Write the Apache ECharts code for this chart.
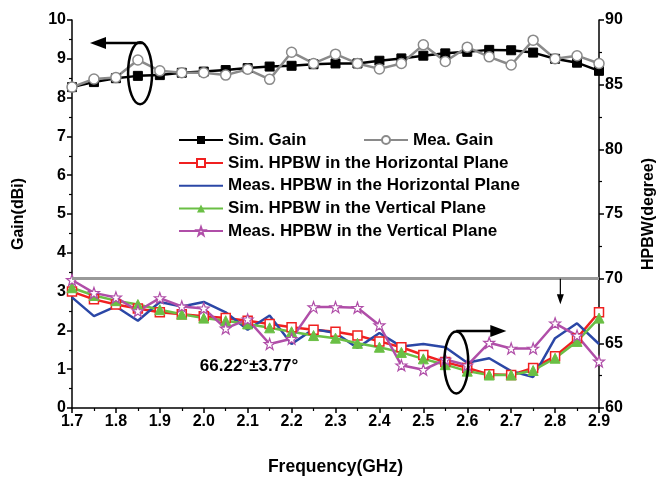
<!DOCTYPE html>
<html>
<head>
<meta charset="utf-8">
<script src="https://cdn.jsdelivr.net/npm/echarts@6/dist/echarts.min.js"></script>
<style>
html, body { margin: 0; padding: 0; background: #fff; }
#main { width: 656px; height: 478px; }
</style>
</head>
<body>
<div id="main"></div>
<script>
var freq = [1.70, 1.75, 1.80, 1.85, 1.90, 1.95, 2.00, 2.05, 2.10, 2.15, 2.20, 2.25, 2.30,
            2.35, 2.40, 2.45, 2.50, 2.55, 2.60, 2.65, 2.70, 2.75, 2.80, 2.85, 2.90];

// gain (dBi), left axis
var simGain = [8.27, 8.40, 8.50, 8.56, 8.58, 8.64, 8.67, 8.71, 8.76, 8.80, 8.82, 8.86, 8.88,
               8.88, 8.95, 9.01, 9.08, 9.14, 9.18, 9.23, 9.22, 9.16, 9.00, 8.90, 8.69];
var meaGain = [8.27, 8.48, 8.52, 8.97, 8.69, 8.64, 8.64, 8.58, 8.73, 8.47, 9.17, 8.88, 9.12,
               8.88, 8.74, 8.88, 9.36, 8.93, 9.30, 9.05, 8.84, 9.48, 9.00, 9.08, 8.88];

// HPBW (degree), right axis
var simH  = [69.0, 68.4, 68.0, 67.7, 67.4, 67.25, 67.1, 66.95, 66.75, 66.5, 66.25, 66.05, 65.9,
             65.6, 65.15, 64.7, 64.1, 63.55, 63.1, 62.6, 62.55, 63.1, 64.0, 65.4, 67.4];
var measH = [68.55, 67.1, 67.85, 66.75, 68.2, 67.85, 68.2, 67.4, 66.05, 67.15, 64.95, 66.1, 65.8,
             64.65, 65.8, 64.75, 64.95, 64.7, 63.5, 63.85, 62.85, 62.4, 65.4, 66.55, 64.95];
var simV  = [69.3, 68.7, 68.3, 68.0, 67.6, 67.25, 66.95, 66.75, 66.5, 66.2, 65.9, 65.6, 65.4,
             65.0, 64.7, 64.3, 63.8, 63.35, 62.85, 62.55, 62.55, 62.9, 63.85, 65.15, 66.95];
var measV = [69.9, 68.9, 68.55, 67.5, 68.5, 67.85, 67.7, 66.15, 66.85, 64.95, 65.35, 67.8, 67.8,
             67.75, 66.4, 63.3, 62.95, 63.75, 63.3, 65.05, 64.6, 64.6, 66.55, 65.6, 63.6];

var noteText = '66.22°±3.77°';

function pairs(ys) {
    var out = [];
    for (var i = 0; i < freq.length; i++) {
        out.push([freq[i], ys[i]]);
    }
    return out;
}

var FONT = '"Liberation Sans", Arial, sans-serif';
var chart = echarts.init(document.getElementById('main'), null, { renderer: 'canvas' });

var axisBase = {
    axisLine: { show: true, lineStyle: { color: '#000', width: 1.5 } },
    axisTick: { show: true, inside: false, length: 5, lineStyle: { color: '#000', width: 1.5 } },
    minorTick: { show: true, splitNumber: 2, length: 3, lineStyle: { color: '#000', width: 1.2 } },
    splitLine: { show: false },
    axisLabel: { color: '#000', fontFamily: FONT, fontWeight: 'bold', fontSize: 16, margin: 6 },
    nameTextStyle: { color: '#000', fontFamily: FONT, fontWeight: 'bold', fontSize: 16 }
};
var legendText = { color: '#000', fontFamily: FONT, fontWeight: 'bold', fontSize: 17, lineHeight: 20 };

var option = {
    animation: false,
    backgroundColor: '#fff',
    grid: { left: 72, right: 57, top: 20, bottom: 70, outerBoundsMode: 'none', containLabel: false },
    legend: [
        {
            data: ['Sim. Gain'], left: 178, top: 130, padding: 0,
            itemWidth: 44, itemHeight: 10, textStyle: legendText
        },
        {
            data: ['Mea. Gain'], left: 363, top: 130, padding: 0,
            itemWidth: 44, itemHeight: 10, textStyle: legendText
        },
        {
            data: [
                'Sim. HPBW in the Horizontal Plane',
                { name: 'Meas. HPBW in the Horizontal Plane', itemStyle: { opacity: 0 } },
                'Sim. HPBW in the Vertical Plane',
                'Meas. HPBW in the Vertical Plane'
            ],
            orient: 'vertical', left: 178, top: 153, padding: 0,
            itemWidth: 44, itemHeight: 10, itemGap: 2.7, textStyle: legendText
        }
    ],
    xAxis: Object.assign({}, axisBase, {
        type: 'value', min: 1.7, max: 2.9, interval: 0.1,
        name: 'Frequency(GHz)', nameLocation: 'middle', nameGap: 50,
        nameTextStyle: Object.assign({}, axisBase.nameTextStyle, { fontSize: 17.5 }),
        axisLabel: Object.assign({}, axisBase.axisLabel, {
            formatter: function (v) { return v.toFixed(1); }
        })
    }),
    yAxis: [
        Object.assign({}, axisBase, {
            type: 'value', min: 0, max: 10, interval: 1, position: 'left',
            name: 'Gain(dBi)', nameLocation: 'middle', nameGap: 45, nameRotate: 90
        }),
        Object.assign({}, axisBase, {
            type: 'value', min: 60, max: 90, interval: 5, position: 'right',
            name: 'HPBW(degree)', nameLocation: 'middle', nameGap: 42, nameRotate: 90
        })
    ],
    series: [
        {
            name: 'Sim. Gain', type: 'line', yAxisIndex: 0, data: pairs(simGain),
            symbol: 'rect', symbolSize: 9,
            lineStyle: { color: '#000', width: 2.5 },
            itemStyle: { color: '#000', borderColor: '#000' }
        },
        {
            name: 'Mea. Gain', type: 'line', yAxisIndex: 0, data: pairs(meaGain),
            symbol: 'circle', symbolSize: 10,
            lineStyle: { color: '#8a8a8a', width: 2.5 },
            itemStyle: { color: '#fff', borderColor: '#8a8a8a', borderWidth: 1.5 }
        },
        {
            name: 'Sim. HPBW in the Horizontal Plane', type: 'line', yAxisIndex: 1, data: pairs(simH),
            symbol: 'rect', symbolSize: 9,
            lineStyle: { color: '#f02020', width: 2.5 },
            itemStyle: { color: '#fff', borderColor: '#f02020', borderWidth: 1.5 },
            markLine: {
                silent: true, symbol: 'none', label: { show: false },
                lineStyle: { color: '#999', width: 3, type: 'solid' },
                data: [{ yAxis: 70 }]
            }
        },
        {
            name: 'Meas. HPBW in the Horizontal Plane', type: 'line', yAxisIndex: 1, data: pairs(measH),
            symbol: 'none', showSymbol: false,
            lineStyle: { color: '#2b47a6', width: 2.5 },
            itemStyle: { color: '#2b47a6' }
        },
        {
            name: 'Sim. HPBW in the Vertical Plane', type: 'line', yAxisIndex: 1, data: pairs(simV),
            symbol: 'triangle', symbolSize: 10,
            lineStyle: { color: '#6abf45', width: 2.5 },
            itemStyle: { color: '#6abf45', borderColor: '#6abf45' }
        },
        {
            name: 'Meas. HPBW in the Vertical Plane', type: 'line', yAxisIndex: 1, data: pairs(measV),
            symbol: 'path://M0,-10 L2.35,-3.24 L9.51,-3.09 L3.8,1.24 L5.88,8.09 L0,4 L-5.88,8.09 L-3.8,1.24 L-9.51,-3.09 L-2.35,-3.24 Z',
            symbolSize: 11,
            lineStyle: { color: '#b04ea8', width: 2.5 },
            itemStyle: { color: '#fff', borderColor: '#b04ea8', borderWidth: 1.2 }
        }
    ]
};
chart.setOption(option);

// annotations placed through the axes
function px(x, y, yi) {
    return chart.convertToPixel({ xAxisIndex: 0, yAxisIndex: yi }, [x, y]);
}
function arrowHead(tip, dir, len, half) {
    var a, b;
    if (dir === 'left') { a = [tip[0] + len, tip[1] - half]; b = [tip[0] + len, tip[1] + half]; }
    else if (dir === 'right') { a = [tip[0] - len, tip[1] - half]; b = [tip[0] - len, tip[1] + half]; }
    else { a = [tip[0] - half, tip[1] - len]; b = [tip[0] + half, tip[1] - len]; }
    return { type: 'polygon', shape: { points: [tip, a, b] }, style: { fill: '#000' }, z: 100 };
}

var e1 = px(1.855, 8.63, 0);
var a1s = px(1.86, 9.41, 0), a1t = px(1.741, 9.41, 0);
var e2 = px(2.575, 63.52, 1);
var a2s = px(2.575, 65.96, 1), a2t = px(2.689, 65.96, 1);
var a3s = px(2.812, 70, 1), a3t = px(2.812, 68.02, 1);
var tp = px(1.991, 63.24, 1);

chart.setOption({
    graphic: [
        { type: 'ellipse', shape: { cx: e1[0], cy: e1[1], rx: 12, ry: 31 },
          style: { fill: 'none', stroke: '#000', lineWidth: 2.5 }, z: 100 },
        { type: 'line', shape: { x1: a1s[0], y1: a1s[1], x2: a1t[0] + 12, y2: a1t[1] },
          style: { stroke: '#000', lineWidth: 2.5 }, z: 100 },
        arrowHead(a1t, 'left', 16, 6),
        { type: 'ellipse', shape: { cx: e2[0], cy: e2[1], rx: 12, ry: 31 },
          style: { fill: 'none', stroke: '#000', lineWidth: 2.5 }, z: 100 },
        { type: 'line', shape: { x1: a2s[0], y1: a2s[1], x2: a2t[0] - 12, y2: a2t[1] },
          style: { stroke: '#000', lineWidth: 2.5 }, z: 100 },
        arrowHead(a2t, 'right', 16, 6),
        { type: 'line', shape: { x1: a3s[0], y1: a3s[1], x2: a3t[0], y2: a3t[1] - 6 },
          style: { stroke: '#000', lineWidth: 1.2 }, z: 100 },
        arrowHead(a3t, 'down', 10, 3.5),
        { type: 'text', x: tp[0], y: tp[1], z: 100,
          style: { text: noteText, fill: '#000', font: 'bold 17px ' + FONT,
                   textAlign: 'left', textVerticalAlign: 'middle' } }
    ]
});
</script>
</body>
</html>
